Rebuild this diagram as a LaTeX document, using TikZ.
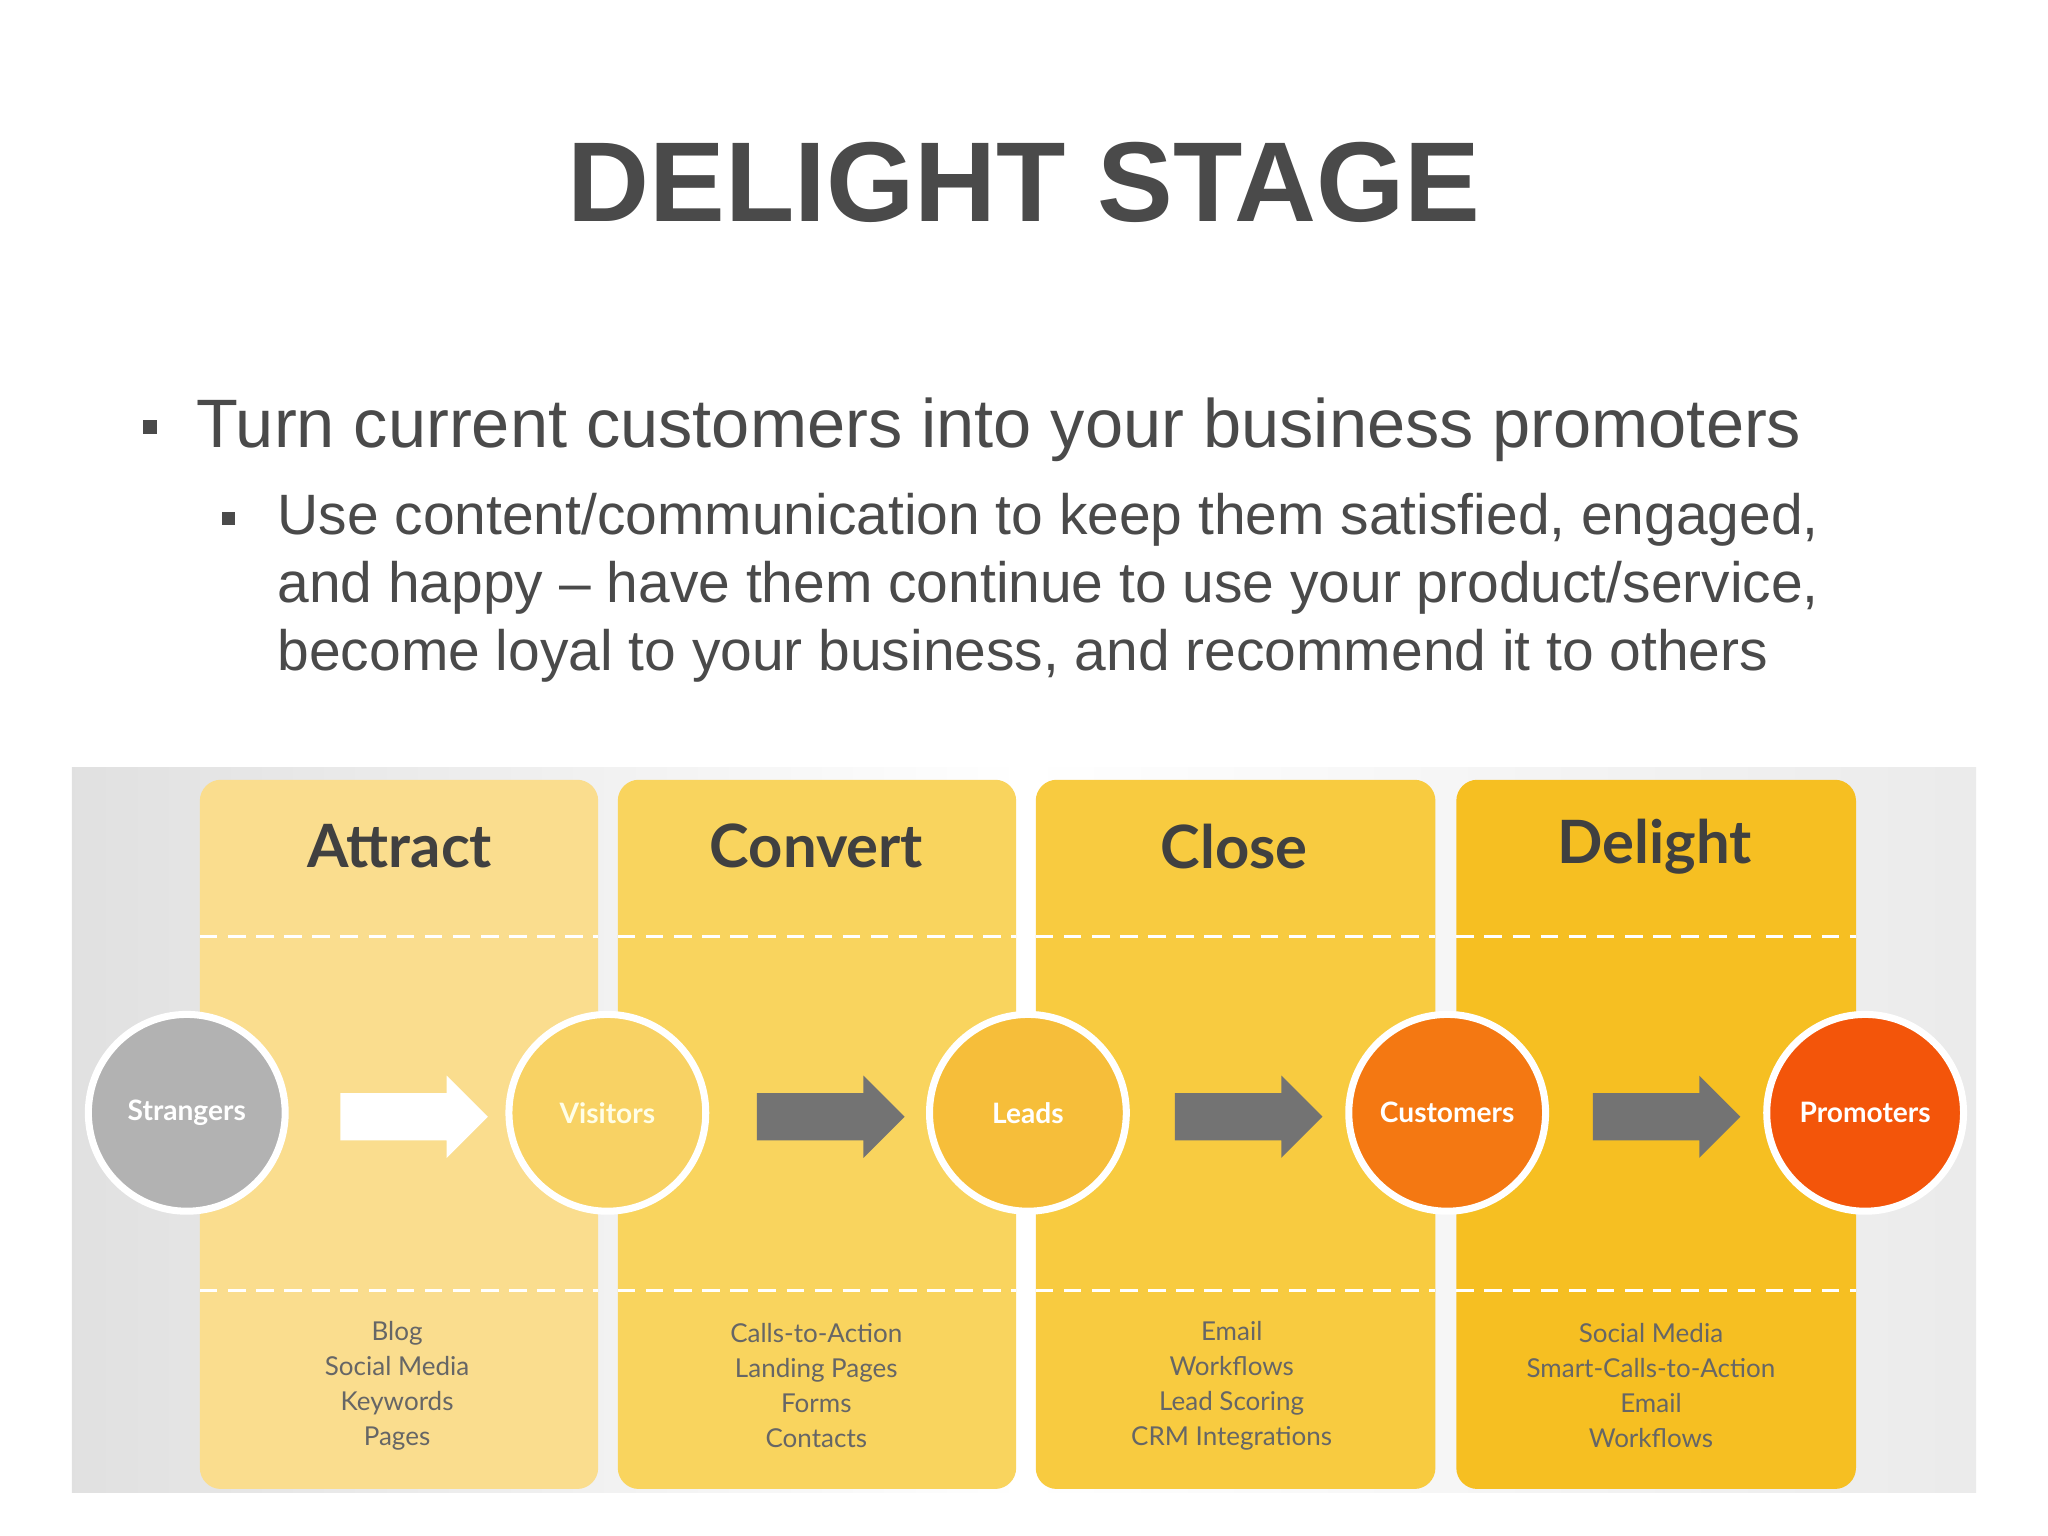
\documentclass[tikz,border=0pt]{standalone}
\usepackage{fontspec}
\setmainfont{Liberation Sans}
\newfontfamily\lato{Lato}
\usetikzlibrary{shapes.arrows}
\definecolor{txt}{HTML}{4A4A4A}
\definecolor{cA}{HTML}{FADD8E}
\definecolor{cB}{HTML}{F9D45E}
\definecolor{cC}{HTML}{F8CB40}
\definecolor{cD}{HTML}{F6BF22}
\begin{document}
\begin{tikzpicture}[x=0.013061cm,y=-0.013061cm,
 col/.style={rounded corners=6pt,inner sep=0pt},
 hdr/.style={font=\lato\bfseries\fontsize{17}{17}\selectfont,text=black!75},
 circ/.style={circle,draw=white,line width=2pt,minimum size=56pt,inner sep=0pt,text=white,font=\lato\bfseries\fontsize{8}{8}\selectfont},
 arr/.style={single arrow,minimum height=42pt,minimum width=23pt,single arrow head extend=5pt,single arrow tip angle=90,inner sep=0pt,shape border rotate=0},
 lst/.style={align=center,font=\lato\fontsize{7.4}{10}\selectfont,text=black!60},
 dsh/.style={white,line width=1pt,dash pattern=on 5pt off 3pt}]
\useasboundingbox[fill=white] (0,0) rectangle (1568,1176);
\node[font=\bfseries\fontsize{32.3}{32.3}\selectfont,text=txt] (title) at (784,140) {DELIGHT STAGE};
\node[anchor=base west,inner sep=0pt,font=\fontsize{19.5}{19.5}\selectfont,text=txt] (b1) at (150,343) {Turn current customers into your business promoters};
\node[fill=txt,minimum size=4pt,inner sep=0pt] (s1) at (115,327) {};
\node[anchor=north west,inner sep=0pt,font=\fontsize{16.2}{19.3}\selectfont,text=txt,align=left] (b2) at (212,377) {Use content/communication to keep them satisfied, engaged,\\and happy -- have them continue to use your product/service,\\become loyal to your business, and recommend it to others};
\node[fill=txt,minimum size=3.5pt,inner sep=0pt] (s2) at (175,397) {};
% panel
\shade[left color=black!12,right color=black!8,middle color=white] (55,588) rectangle (1513,1143);
\fill[cA,col] (153,597) rectangle (458,1140);
\fill[cB,col] (473,597) rectangle (778,1140);
\fill[cC,col] (793,597) rectangle (1099,1140);
\fill[cD,col] (1115,597) rectangle (1421,1140);
\foreach \y in {717,988}{
 \draw[dsh] (153,\y) -- (458,\y); \draw[dsh] (473,\y) -- (778,\y);
 \draw[dsh] (793,\y) -- (1099,\y); \draw[dsh] (1115,\y) -- (1421,\y);}
\node[hdr] (h1) at (306,648) {Attract};
\node[hdr] (h2) at (625,648) {Convert};
\node[hdr] (h3) at (945,648) {Close};
\node[hdr] (h4) at (1267,648) {Delight};
\node[circ,fill=black!30] (n1) at (143,852) {Strangers};
\node[circ,fill={rgb,255:red,248;green,210;blue,100},text=white!90!yellow] (n2) at (465,852) {Visitors};
\node[circ,fill={rgb,255:red,246;green,190;blue,58}] (n3) at (787,852) {Leads};
\node[circ,fill={rgb,255:red,244;green,120;blue,18}] (n4) at (1108,852) {Customers};
\node[circ,fill={rgb,255:red,243;green,85;blue,10}] (n5) at (1428,852) {Promoters};
\node[arr,fill=white] (a1) at (308,855) {\rule{0pt}{13pt}};
\node[arr,fill=black!55] (a2) at (627,855) {\rule{0pt}{13pt}};
\node[arr,fill=black!55] (a3) at (947,855) {\rule{0pt}{13pt}};
\node[arr,fill=black!55] (a4) at (1267,855) {\rule{0pt}{13pt}};
\node[lst] (l1) at (304,1061) {Blog\\Social Media\\Keywords\\Pages};
\node[lst] (l2) at (625,1061) {Calls-to-Action\\Landing Pages\\Forms\\Contacts};
\node[lst] (l3) at (943,1061) {Email\\Workflows\\Lead Scoring\\CRM Integrations};
\node[lst] (l4) at (1264,1061) {Social Media\\Smart-Calls-to-Action\\Email\\Workflows};
\end{tikzpicture}
\end{document}
